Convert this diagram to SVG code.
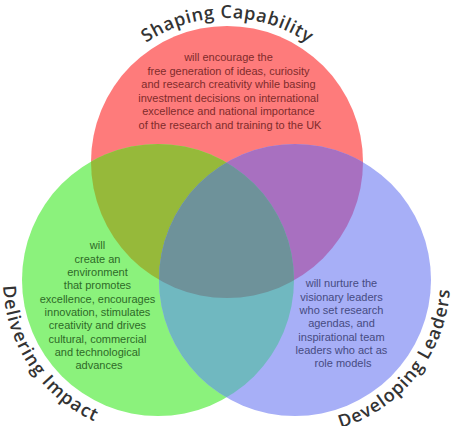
<svg xmlns="http://www.w3.org/2000/svg" width="454" height="426" viewBox="0 0 454 426">
<style>
.body{font-family:"Liberation Sans",Arial,sans-serif;font-size:11px;text-anchor:middle}
.title{font-family:"Open Sans","Liberation Sans",sans-serif;font-size:18px;font-weight:600;fill:#333333}
</style>
<defs>
<clipPath id="cpR"><circle cx="227" cy="162" r="136"/></clipPath>
<clipPath id="cpG"><circle cx="158" cy="280" r="136"/></clipPath>
<path id="arcS" d="M 83,162 A 144 144 0 0 1 371,162"/>
<path id="arcD" d="M 12.3,227 A 155 155 0 0 0 158,435"/>
<path id="arcL" d="M 295,435 A 155 155 0 0 0 440.7,227"/>
</defs>
<rect width="454" height="426" fill="#ffffff"/>
<g id="shaping-capability">
<circle cx="227" cy="162" r="136" fill="#fe7b7b"/>
<text class="body" fill="#7e2b2b">
<tspan x="230" y="61">will encourage the</tspan>
<tspan x="230" y="74.5">free generation of ideas, curiosity</tspan>
<tspan x="230" y="88">and research creativity while basing</tspan>
<tspan x="230" y="101.5">investment decisions on international</tspan>
<tspan x="230" y="115">excellence and national importance</tspan>
<tspan x="230" y="128.5">of the research and training to the UK</tspan>
</text>
<text class="title"><textPath href="#arcS" startOffset="50%" text-anchor="middle" textLength="172" lengthAdjust="spacing">Shaping Capability</textPath></text>
</g>
<g id="delivering-impact">
<circle cx="158" cy="280" r="136" fill="#8bf27c"/>
<text class="body" fill="#2e6a28">
<tspan x="99" y="249">will</tspan>
<tspan x="99" y="262.5">create an</tspan>
<tspan x="99" y="275.5">environment</tspan>
<tspan x="99" y="289">that promotes</tspan>
<tspan x="99" y="302.5">excellence, encourages</tspan>
<tspan x="99" y="316">innovation, stimulates</tspan>
<tspan x="99" y="329">creativity and drives</tspan>
<tspan x="99" y="342.5">cultural, commercial</tspan>
<tspan x="99" y="356">and technological</tspan>
<tspan x="99" y="369">advances</tspan>
</text>
<text class="title"><textPath href="#arcD" startOffset="49%" text-anchor="middle" textLength="172" lengthAdjust="spacing">Delivering Impact</textPath></text>
</g>
<g id="developing-leaders">
<circle cx="295" cy="280" r="136" fill="#a7aff7"/>
<text class="body" fill="#464b82">
<tspan x="343" y="287">will nurture the</tspan>
<tspan x="343" y="300.5">visionary leaders</tspan>
<tspan x="343" y="314">who set research</tspan>
<tspan x="343" y="327">agendas, and</tspan>
<tspan x="343" y="340.5">inspirational team</tspan>
<tspan x="343" y="354">leaders who act as</tspan>
<tspan x="343" y="367">role models</tspan>
</text>
<text class="title"><textPath href="#arcL" startOffset="47%" text-anchor="middle" textLength="187" lengthAdjust="spacing">Developing Leaders</textPath></text>
</g>
<g id="overlaps">
<circle cx="158" cy="280" r="136" fill="#96b93a" clip-path="url(#cpR)"/>
<circle cx="295" cy="280" r="136" fill="#a870c0" clip-path="url(#cpR)"/>
<circle cx="295" cy="280" r="136" fill="#70b8c0" clip-path="url(#cpG)"/>
<g clip-path="url(#cpR)"><circle cx="295" cy="280" r="136" fill="#6e929a" clip-path="url(#cpG)"/></g>
</g>
</svg>
